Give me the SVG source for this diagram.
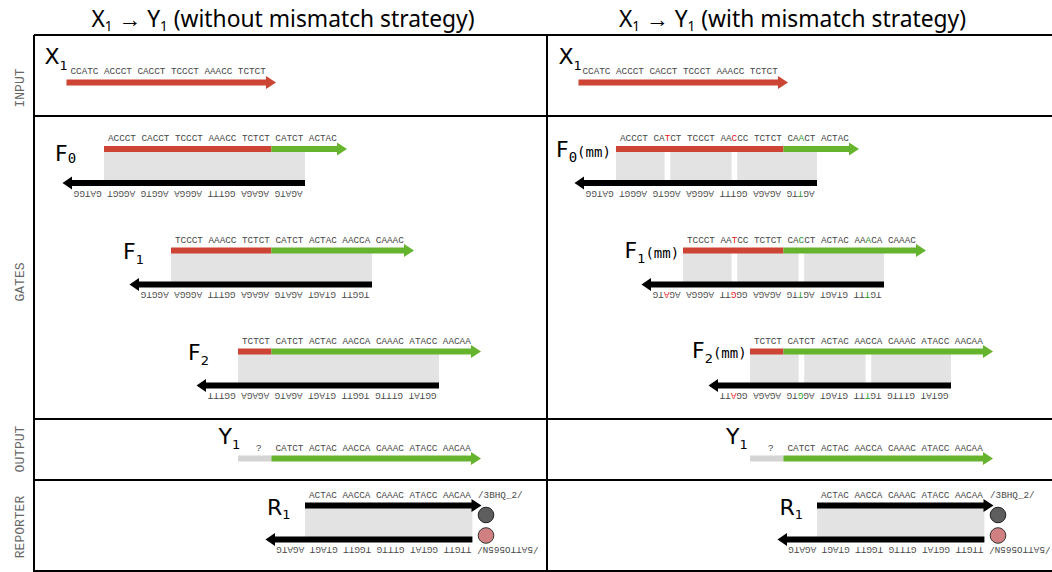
<svg xmlns="http://www.w3.org/2000/svg" width="1052" height="572" viewBox="0 0 1052 572">
<style>
.seq{font-family:"Liberation Mono",monospace;font-size:9.3px;fill:#484848}
.lbl{font-family:"DejaVu Sans",sans-serif;font-size:22px;fill:#000}
.sub{font-size:13px}
.mono{font-family:"DejaVu Sans Mono",monospace;font-size:14px}
.red{fill:#cc4433}
.grn{fill:#66b32e}
.blk{fill:#000}
.gry{fill:#e3e3e3}
.gry2{fill:#d4d4d4}
.mr{fill:#e8141e}
.mg{fill:#1f9a1f}
.grid{stroke:#000;stroke-width:2;fill:none}
.row{font-family:"Liberation Mono",monospace;font-size:13px;fill:#666}
.hdr{font-family:"Noto Sans",sans-serif;font-size:22.8px;fill:#000}
.hs{font-size:13.5px}
.q{fill:#d08080;stroke:#333;stroke-width:1}
.d{fill:#5e5e5e;stroke:#222;stroke-width:1}
</style>
<g id="grid">
<path class="grid" d="M34,35 H1052 M34,35 V572 M547,35 V572 M34,116 H1052 M34,419 H1052 M34,480 H1052 M34,571 H1052"/>
</g>
<g id="headers">
<text class="hdr" x="283" y="27" text-anchor="middle">X<tspan class="hs" dy="4">1</tspan><tspan dy="-4"> → Y</tspan><tspan class="hs" dy="4">1</tspan><tspan dy="-4"> (without mismatch strategy)</tspan></text>
<text class="hdr" x="792.5" y="27" text-anchor="middle">X<tspan class="hs" dy="4">1</tspan><tspan dy="-4"> → Y</tspan><tspan class="hs" dy="4">1</tspan><tspan dy="-4"> (with mismatch strategy)</tspan></text>
</g>
<g id="row-labels">
<text class="row" transform="translate(23.5,88) rotate(-90)" text-anchor="middle">INPUT</text>
<text class="row" transform="translate(23.5,282) rotate(-90)" text-anchor="middle">GATES</text>
<text class="row" transform="translate(23.5,449) rotate(-90)" text-anchor="middle">OUTPUT</text>
<text class="row" transform="translate(23.5,527) rotate(-90)" text-anchor="middle">REPORTER</text>
</g>

<!-- LEFT PANEL -->
<g id="L-X1">
<text class="lbl" x="44.5" y="64">X<tspan class="sub" dy="6">1</tspan></text>
<text class="seq" x="70.5" y="74">CCATC ACCCT CACCT TCCCT AAACC TCTCT</text>
<rect class="red" x="66.5" y="79.5" width="201" height="6"/>
<polygon class="red" points="266,76 276,82.5 266,89"/>
</g>
<g id="L-F0">
<text class="lbl" x="55" y="161">F<tspan class="mono" dy="2">0</tspan></text>
<rect class="gry" x="104" y="149" width="201" height="34"/>
<text class="seq" x="108" y="141">ACCCT CACCT TCCCT AAACC TCTCT CATCT ACTAC</text>
<rect class="red" x="104" y="146" width="167.4" height="6"/>
<rect class="grn" x="271.4" y="146" width="67.5" height="6"/>
<polygon class="grn" points="337,142.5 347,149 337,155.5"/>
<rect class="blk" x="71" y="180" width="234" height="6"/>
<polygon class="blk" points="72,176.5 62.5,183 72,189.5"/>
<text class="seq" transform="translate(302.5,190.5) rotate(180)">AGATG AGAGA GGTTT AGGGA AGGTG AGGGT GATGG</text>
</g>
<g id="L-F1">
<text class="lbl" x="123" y="258.5">F<tspan class="sub" dy="5">1</tspan></text>
<rect class="gry" x="171" y="250.5" width="201" height="34"/>
<text class="seq" x="175" y="242.5">TCCCT AAACC TCTCT CATCT ACTAC AACCA CAAAC</text>
<rect class="red" x="171" y="247.5" width="100.4" height="6"/>
<rect class="grn" x="271.4" y="247.5" width="134.6" height="6"/>
<polygon class="grn" points="404,244 414,250.5 404,257"/>
<rect class="blk" x="138" y="281.5" width="234" height="6"/>
<polygon class="blk" points="139,278 129.5,284.5 139,291"/>
<text class="seq" transform="translate(369.5,291.5) rotate(180)">TGGTT GTAGT AGATG AGAGA GGTTT AGGGA AGGTG</text>
</g>
<g id="L-F2">
<text class="lbl" x="188" y="360">F<tspan class="sub" dy="5">2</tspan></text>
<rect class="gry" x="238" y="351.5" width="201" height="34"/>
<text class="seq" x="242" y="343.5">TCTCT CATCT ACTAC AACCA CAAAC ATACC AACAA</text>
<rect class="red" x="238" y="348.5" width="33.4" height="6"/>
<rect class="grn" x="271.4" y="348.5" width="201" height="6"/>
<polygon class="grn" points="471,345 481,351.5 471,358"/>
<rect class="blk" x="205" y="382.5" width="234" height="6"/>
<polygon class="blk" points="206,379 196.5,385.5 206,392"/>
<text class="seq" transform="translate(436.5,392.5) rotate(180)">GGTAT GTTTG TGGTT GTAGT AGATG AGAGA GGTTT</text>
</g>
<g id="L-Y1">
<text class="lbl" x="218.5" y="444.3">Y<tspan class="sub" dy="5">1</tspan></text>
<text class="seq" x="256" y="450.5">?</text>
<text class="seq" x="275.5" y="450.5">CATCT ACTAC AACCA CAAAC ATACC AACAA</text>
<rect class="gry2" x="238" y="455.5" width="33.4" height="6"/>
<rect class="grn" x="271.4" y="455.5" width="201" height="6"/>
<polygon class="grn" points="471,452 481,458.5 471,465"/>
</g>
<g id="L-R1">
<text class="lbl" x="267" y="515">R<tspan class="sub" dy="4">1</tspan></text>
<rect class="gry" x="305" y="505.5" width="167.4" height="34"/>
<text class="seq" x="309" y="497.5">ACTAC AACCA CAAAC ATACC AACAA</text>
<text class="seq" x="478" y="497.5">/3BHQ_2/</text>
<rect class="blk" x="305" y="502.5" width="167" height="6"/>
<polygon class="blk" points="471.5,499 481.5,505.5 471.5,512"/>
<rect class="blk" x="274" y="536.5" width="198.4" height="6"/>
<polygon class="blk" points="275,533 265.5,539.5 275,546"/>
<text class="seq" transform="translate(538.5,546.5) rotate(180)">/5ATTO565N/ TTGTT GGTAT GTTTG TGGTT GTAGT AGATG</text>
<circle class="d" cx="486" cy="515" r="7.8"/>
<circle class="q" cx="486" cy="535.5" r="7.8"/>
</g>

<!-- RIGHT PANEL -->
<g id="R-X1" transform="translate(512,0)">
<text class="lbl" x="46.5" y="64">X<tspan class="sub" dy="6">1</tspan></text>
<text class="seq" x="70.5" y="74">CCATC ACCCT CACCT TCCCT AAACC TCTCT</text>
<rect class="red" x="66.5" y="79.5" width="201" height="6"/>
<polygon class="red" points="266,76 276,82.5 266,89"/>
</g>
<g id="R-F0mm" transform="translate(512,0)">
<text class="lbl" x="44" y="157">F<tspan class="mono" dy="5">0</tspan><tspan class="mono" dy="-5">(mm)</tspan></text>
<rect class="gry" x="104" y="149" width="48.64" height="34"/>
<rect class="gry" x="158.22" y="149" width="61.38" height="34"/>
<rect class="gry" x="225.18" y="149" width="79.82" height="34"/>
<text class="seq" x="108" y="141">ACCCT CA<tspan class="mr">T</tspan>CT TCCCT AA<tspan class="mr">C</tspan>CC TCTCT CA<tspan class="mg">A</tspan>CT ACTAC</text>
<rect class="red" x="104" y="146" width="167.4" height="6"/>
<rect class="grn" x="271.4" y="146" width="67.5" height="6"/>
<polygon class="grn" points="337,142.5 347,149 337,155.5"/>
<rect class="blk" x="71" y="180" width="234" height="6"/>
<polygon class="blk" points="72,176.5 62.5,183 72,189.5"/>
<text class="seq" transform="translate(302.5,190.5) rotate(180)">AG<tspan class="mg">T</tspan>TG AGAGA GGTTT AGGGA AGGTG AGGGT GATGG</text>
</g>
<g id="R-F1mm" transform="translate(512,0)">
<text class="lbl" x="112.5" y="258">F<tspan class="sub" dy="5">1</tspan><tspan class="mono" dy="-5">(mm)</tspan></text>
<rect class="gry" x="171" y="250.5" width="48.64" height="34"/>
<rect class="gry" x="225.22" y="250.5" width="61.38" height="34"/>
<rect class="gry" x="292.18" y="250.5" width="79.82" height="34"/>
<text class="seq" x="175" y="242.5">TCCCT AA<tspan class="mr">T</tspan>CC TCTCT CA<tspan class="mg">C</tspan>CT ACTAC AA<tspan class="mg">A</tspan>CA CAAAC</text>
<rect class="red" x="171" y="247.5" width="100.4" height="6"/>
<rect class="grn" x="271.4" y="247.5" width="134.6" height="6"/>
<polygon class="grn" points="404,244 414,250.5 404,257"/>
<rect class="blk" x="138" y="281.5" width="234" height="6"/>
<polygon class="blk" points="139,278 129.5,284.5 139,291"/>
<text class="seq" transform="translate(369.5,291.5) rotate(180)">TG<tspan class="mg">T</tspan>TT GTAGT AG<tspan class="mg">T</tspan>TG AGAGA GG<tspan class="mr">G</tspan>TT AGGGA AG<tspan class="mr">A</tspan>TG</text>
</g>
<g id="R-F2mm" transform="translate(512,0)">
<text class="lbl" x="180" y="358">F<tspan class="sub" dy="5">2</tspan><tspan class="mono" dy="-5">(mm)</tspan></text>
<rect class="gry" x="238" y="351.5" width="48.64" height="34"/>
<rect class="gry" x="292.22" y="351.5" width="61.38" height="34"/>
<rect class="gry" x="359.18" y="351.5" width="79.82" height="34"/>
<text class="seq" x="242" y="343.5">TCTCT CATCT ACTAC AACCA CAAAC ATACC AACAA</text>
<rect class="red" x="238" y="348.5" width="33.4" height="6"/>
<rect class="grn" x="271.4" y="348.5" width="201" height="6"/>
<polygon class="grn" points="471,345 481,351.5 471,358"/>
<rect class="blk" x="205" y="382.5" width="234" height="6"/>
<polygon class="blk" points="206,379 196.5,385.5 206,392"/>
<text class="seq" transform="translate(436.5,392.5) rotate(180)">GGTAT GTTTG TG<tspan class="mg">T</tspan>TT GTAGT AG<tspan class="mg">G</tspan>TG AGAGA GG<tspan class="mr">A</tspan>TT</text>
</g>
<g id="R-Y1" transform="translate(512,0)">
<text class="lbl" x="214" y="444.3">Y<tspan class="sub" dy="5">1</tspan></text>
<text class="seq" x="256" y="450.5">?</text>
<text class="seq" x="275.5" y="450.5">CATCT ACTAC AACCA CAAAC ATACC AACAA</text>
<rect class="gry2" x="238" y="455.5" width="33.4" height="6"/>
<rect class="grn" x="271.4" y="455.5" width="201" height="6"/>
<polygon class="grn" points="471,452 481,458.5 471,465"/>
</g>
<g id="R-R1" transform="translate(512,0)">
<text class="lbl" x="267.5" y="515">R<tspan class="sub" dy="4">1</tspan></text>
<rect class="gry" x="305" y="505.5" width="167.4" height="34"/>
<text class="seq" x="309" y="497.5">ACTAC AACCA CAAAC ATACC AACAA</text>
<text class="seq" x="478" y="497.5">/3BHQ_2/</text>
<rect class="blk" x="305" y="502.5" width="167" height="6"/>
<polygon class="blk" points="471.5,499 481.5,505.5 471.5,512"/>
<rect class="blk" x="274" y="536.5" width="198.4" height="6"/>
<polygon class="blk" points="275,533 265.5,539.5 275,546"/>
<text class="seq" transform="translate(538.5,546.5) rotate(180)">/5ATTO565N/ TTGTT GGTAT GTTTG TGGTT GTAGT AGATG</text>
<circle class="d" cx="486" cy="515" r="7.8"/>
<circle class="q" cx="486" cy="535.5" r="7.8"/>
</g>
</svg>
